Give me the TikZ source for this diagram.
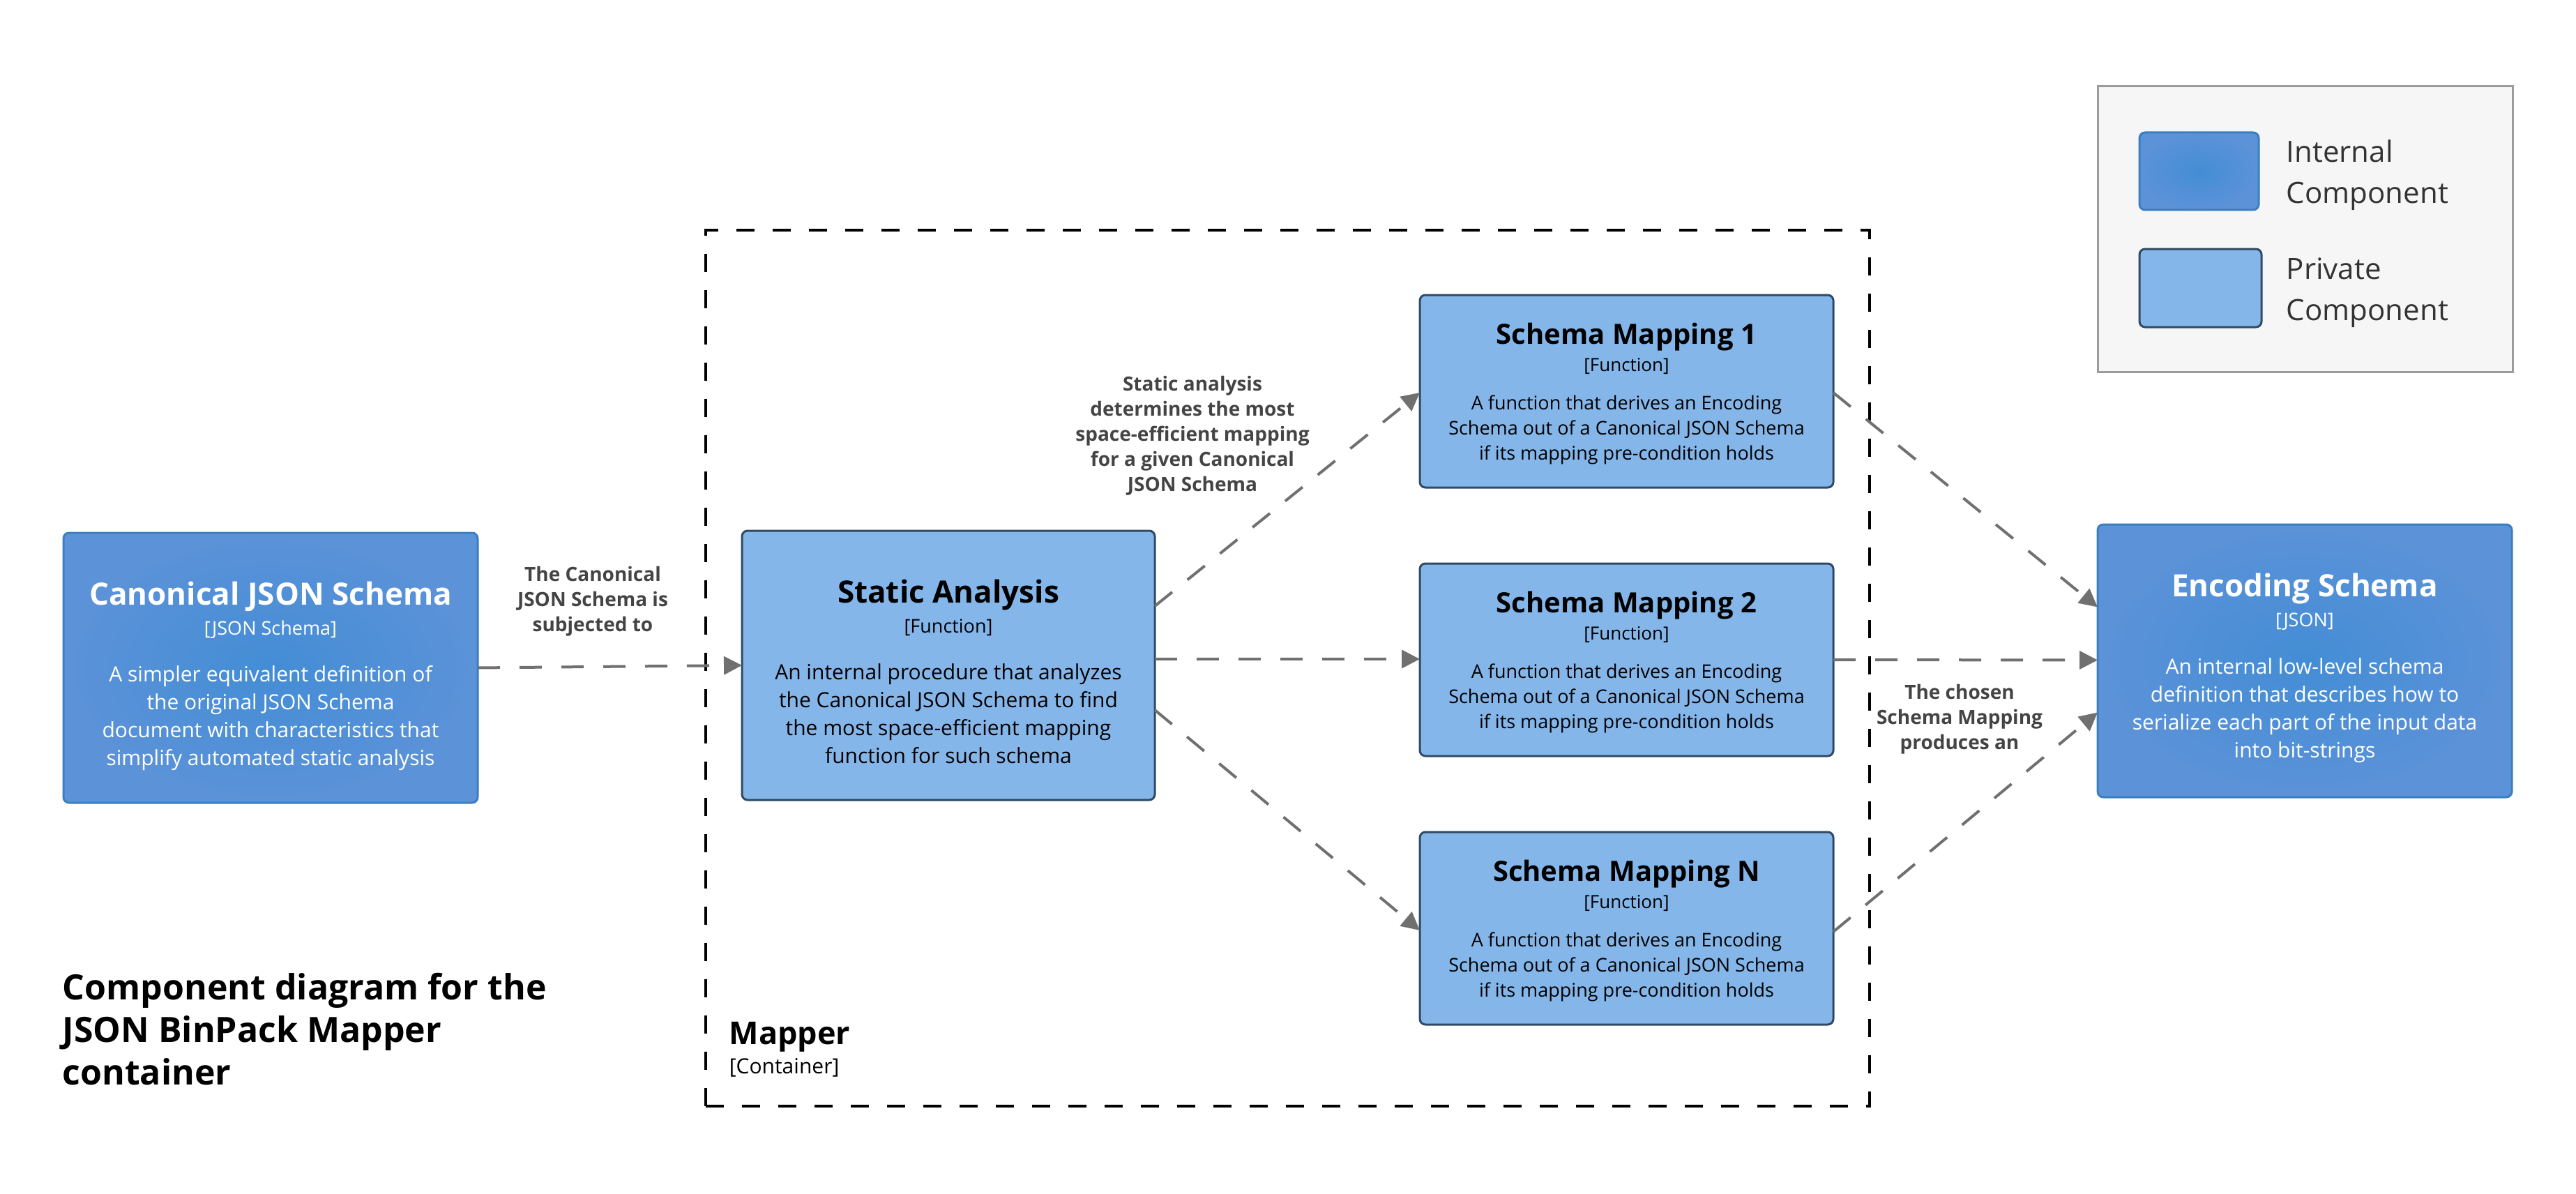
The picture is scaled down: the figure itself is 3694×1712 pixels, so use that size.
\documentclass[tikz,border=0pt]{standalone}
\usepackage{fontspec}
\setmainfont{Open Sans}
\usetikzlibrary{arrows.meta,calc}
\definecolor{intIn}{HTML}{438DD5}
\definecolor{intOut}{HTML}{5C92D8}
\definecolor{intBorder}{HTML}{3C7FC0}
\definecolor{privFill}{HTML}{85B6EA}
\definecolor{privBorder}{HTML}{2F4A64}
\definecolor{relGray}{HTML}{707070}
\definecolor{lblGray}{HTML}{444444}
\definecolor{legFill}{HTML}{F6F6F6}
\definecolor{legBorder}{HTML}{9B9B9B}
\definecolor{legText}{HTML}{333333}
\newcommand{\fBigTitle}{\fontsize{11pt}{13pt}\selectfont\bfseries}
\newcommand{\fBigSub}{\fontsize{6.75pt}{8pt}\selectfont}
\newcommand{\fBigDesc}{\fontsize{7.5pt}{10pt}\selectfont}
\newcommand{\fSmTitle}{\fontsize{10pt}{12pt}\selectfont\bfseries}
\newcommand{\fSmSub}{\fontsize{6.5pt}{8pt}\selectfont}
\newcommand{\fSmDesc}{\fontsize{6.75pt}{9pt}\selectfont}
\newcommand{\fLbl}{\fontsize{7pt}{9pt}\selectfont\bfseries}
\newcommand{\fLeg}{\fontsize{10.5pt}{14.75pt}\selectfont}
\newcommand{\fMainTitle}{\fontsize{12.5pt}{15.25pt}\selectfont\bfseries}
\begin{document}
\begin{tikzpicture}[x=0.25pt,y=-0.25pt,
  internal/.style={draw=intBorder, line width=0.75pt, rounded corners=2pt, inner color=intIn, outer color=intOut, inner sep=0pt, outer sep=0pt},
  private/.style={draw=privBorder, line width=0.75pt, rounded corners=2pt, fill=privFill, inner sep=0pt, outer sep=0pt},
  rel/.style={draw=relGray, line width=1pt, dash pattern=on 8pt off 7pt, -{Triangle[length=6.5pt,width=6.5pt]}},
  txt/.style={anchor=base, inner sep=0pt, align=center},
  lbl/.style={anchor=base, inner sep=0pt, align=center, font=\fLbl, text=lblGray},
  container/.style={draw=black, line width=1pt, dash pattern=on 6.5pt off 6.5pt, inner sep=0pt, outer sep=0pt}
]
\useasboundingbox (0,0) rectangle (3694,1712);

% container
\node[container, minimum width=417.25pt, minimum height=314pt] (mapper) at (1846.5,958) {};
\node[anchor=base west, inner sep=0pt, font=\fontsize{11.25pt}{13pt}\selectfont\bfseries] (mapperT) at (1045,1497) {Mapper};
\node[anchor=base west, inner sep=0pt, font=\fontsize{7.5pt}{9pt}\selectfont] (mapperS) at (1045,1539) {[Container]};

% Canonical JSON Schema
\node[internal, minimum width=148.5pt, minimum height=96.75pt] (canon) at (388,957.5) {};
\node[txt, font=\fBigTitle, text=white] (canonT) at (388,867) {Canonical JSON Schema};
\node[txt, font=\fBigSub, text=white] (canonS) at (388,910) {[JSON Schema]};
\node[txt, font=\fBigDesc, text=white] (canonD) at (388,1097) {A simpler equivalent definition of\\the original JSON Schema\\document with characteristics that\\simplify automated static analysis};

% Static Analysis
\node[private, minimum width=148pt, minimum height=96.5pt] (static) at (1360,954) {};
\node[txt, font=\fBigTitle] (staticT) at (1360,864) {Static Analysis};
\node[txt, font=\fBigSub] (staticS) at (1360,907) {[Function]};
\node[txt, font=\fBigDesc] (staticD) at (1360,1094) {An internal procedure that analyzes\\the Canonical JSON Schema to find\\the most space-efficient mapping\\function for such schema};

% Schema Mappings
\node[private, minimum width=148.25pt, minimum height=69pt] (sm1) at (2332.5,561) {};
\node[txt, font=\fSmTitle] (sm1T) at (2332.5,493) {Schema Mapping 1};
\node[txt, font=\fSmSub] (sm1S) at (2332.5,532) {[Function]};
\node[txt, font=\fSmDesc] (sm1D) at (2332.5,659) {A function that derives an Encoding\\Schema out of a Canonical JSON Schema\\if its mapping pre-condition holds};

\node[private, minimum width=148.25pt, minimum height=69pt] (sm2) at (2332.5,946) {};
\node[txt, font=\fSmTitle] (sm2T) at (2332.5,878) {Schema Mapping 2};
\node[txt, font=\fSmSub] (sm2S) at (2332.5,917) {[Function]};
\node[txt, font=\fSmDesc] (sm2D) at (2332.5,1044) {A function that derives an Encoding\\Schema out of a Canonical JSON Schema\\if its mapping pre-condition holds};

\node[private, minimum width=148.25pt, minimum height=69pt] (smn) at (2332.5,1331) {};
\node[txt, font=\fSmTitle] (smnT) at (2332.5,1263) {Schema Mapping N};
\node[txt, font=\fSmSub] (smnS) at (2332.5,1302) {[Function]};
\node[txt, font=\fSmDesc] (smnD) at (2332.5,1429) {A function that derives an Encoding\\Schema out of a Canonical JSON Schema\\if its mapping pre-condition holds};

% Encoding Schema
\node[internal, minimum width=148.5pt, minimum height=97.75pt] (enc) at (3305,947.5) {};
\node[txt, font=\fBigTitle, text=white] (encT) at (3305,855) {Encoding Schema};
\node[txt, font=\fBigSub, text=white] (encS) at (3305,898) {[JSON]};
\node[txt, font=\fBigDesc, text=white] (encD) at (3305,1086) {An internal low-level schema\\definition that describes how to\\serialize each part of the input data\\into bit-strings};

% relations
\draw[rel] (canon.east) -- (static.west);
\draw[rel] ($(static.east)+(0,-85)$) -- ($(sm1.west)+(0,2)$);
\draw[rel] ($(static.east)+(0,-9)$) -- ($(sm2.west)+(0,-1)$);
\draw[rel] ($(static.east)+(0,64)$) -- ($(smn.west)+(0,3)$);
\draw[rel] ($(sm1.east)+(0,2)$) -- ($(enc.west)+(0,-77)$);
\draw[rel] ($(sm2.east)+(0,0)$) -- ($(enc.west)+(0,-1)$);
\draw[rel] ($(smn.east)+(0,5)$) -- ($(enc.west)+(0,74)$);

% relation labels
\node[lbl] (l1) at (850,905) {The Canonical\\JSON Schema is\\subjected to};
\node[lbl] (l2) at (1710,704) {Static analysis\\determines the most\\space-efficient mapping\\for a given Canonical\\JSON Schema};
\node[lbl] (l3) at (2810,1074) {The chosen\\Schema Mapping\\produces an};

% legend
\node[draw=legBorder, fill=legFill, line width=0.75pt, minimum width=148.75pt, minimum height=102.25pt, inner sep=0pt] (legend) at (3305.5,328.5) {};
\node[internal, minimum width=42.75pt, minimum height=27.75pt] (legInt) at (3153.5,245.5) {};
\node[private, minimum width=43.75pt, minimum height=28pt] (legPriv) at (3155.5,413) {};
\node[anchor=base west, inner sep=0pt, align=left, font=\fLeg, text=legText] (legIntT) at (3278,292) {Internal\\Component};
\node[anchor=base west, inner sep=0pt, align=left, font=\fLeg, text=legText] (legPrivT) at (3278,459) {Private\\Component};

% title
\node[anchor=base west, inner sep=0pt, align=left, font=\fMainTitle] (title) at (89,1555) {Component diagram for the\\JSON BinPack Mapper\\container};
\end{tikzpicture}
\end{document}
